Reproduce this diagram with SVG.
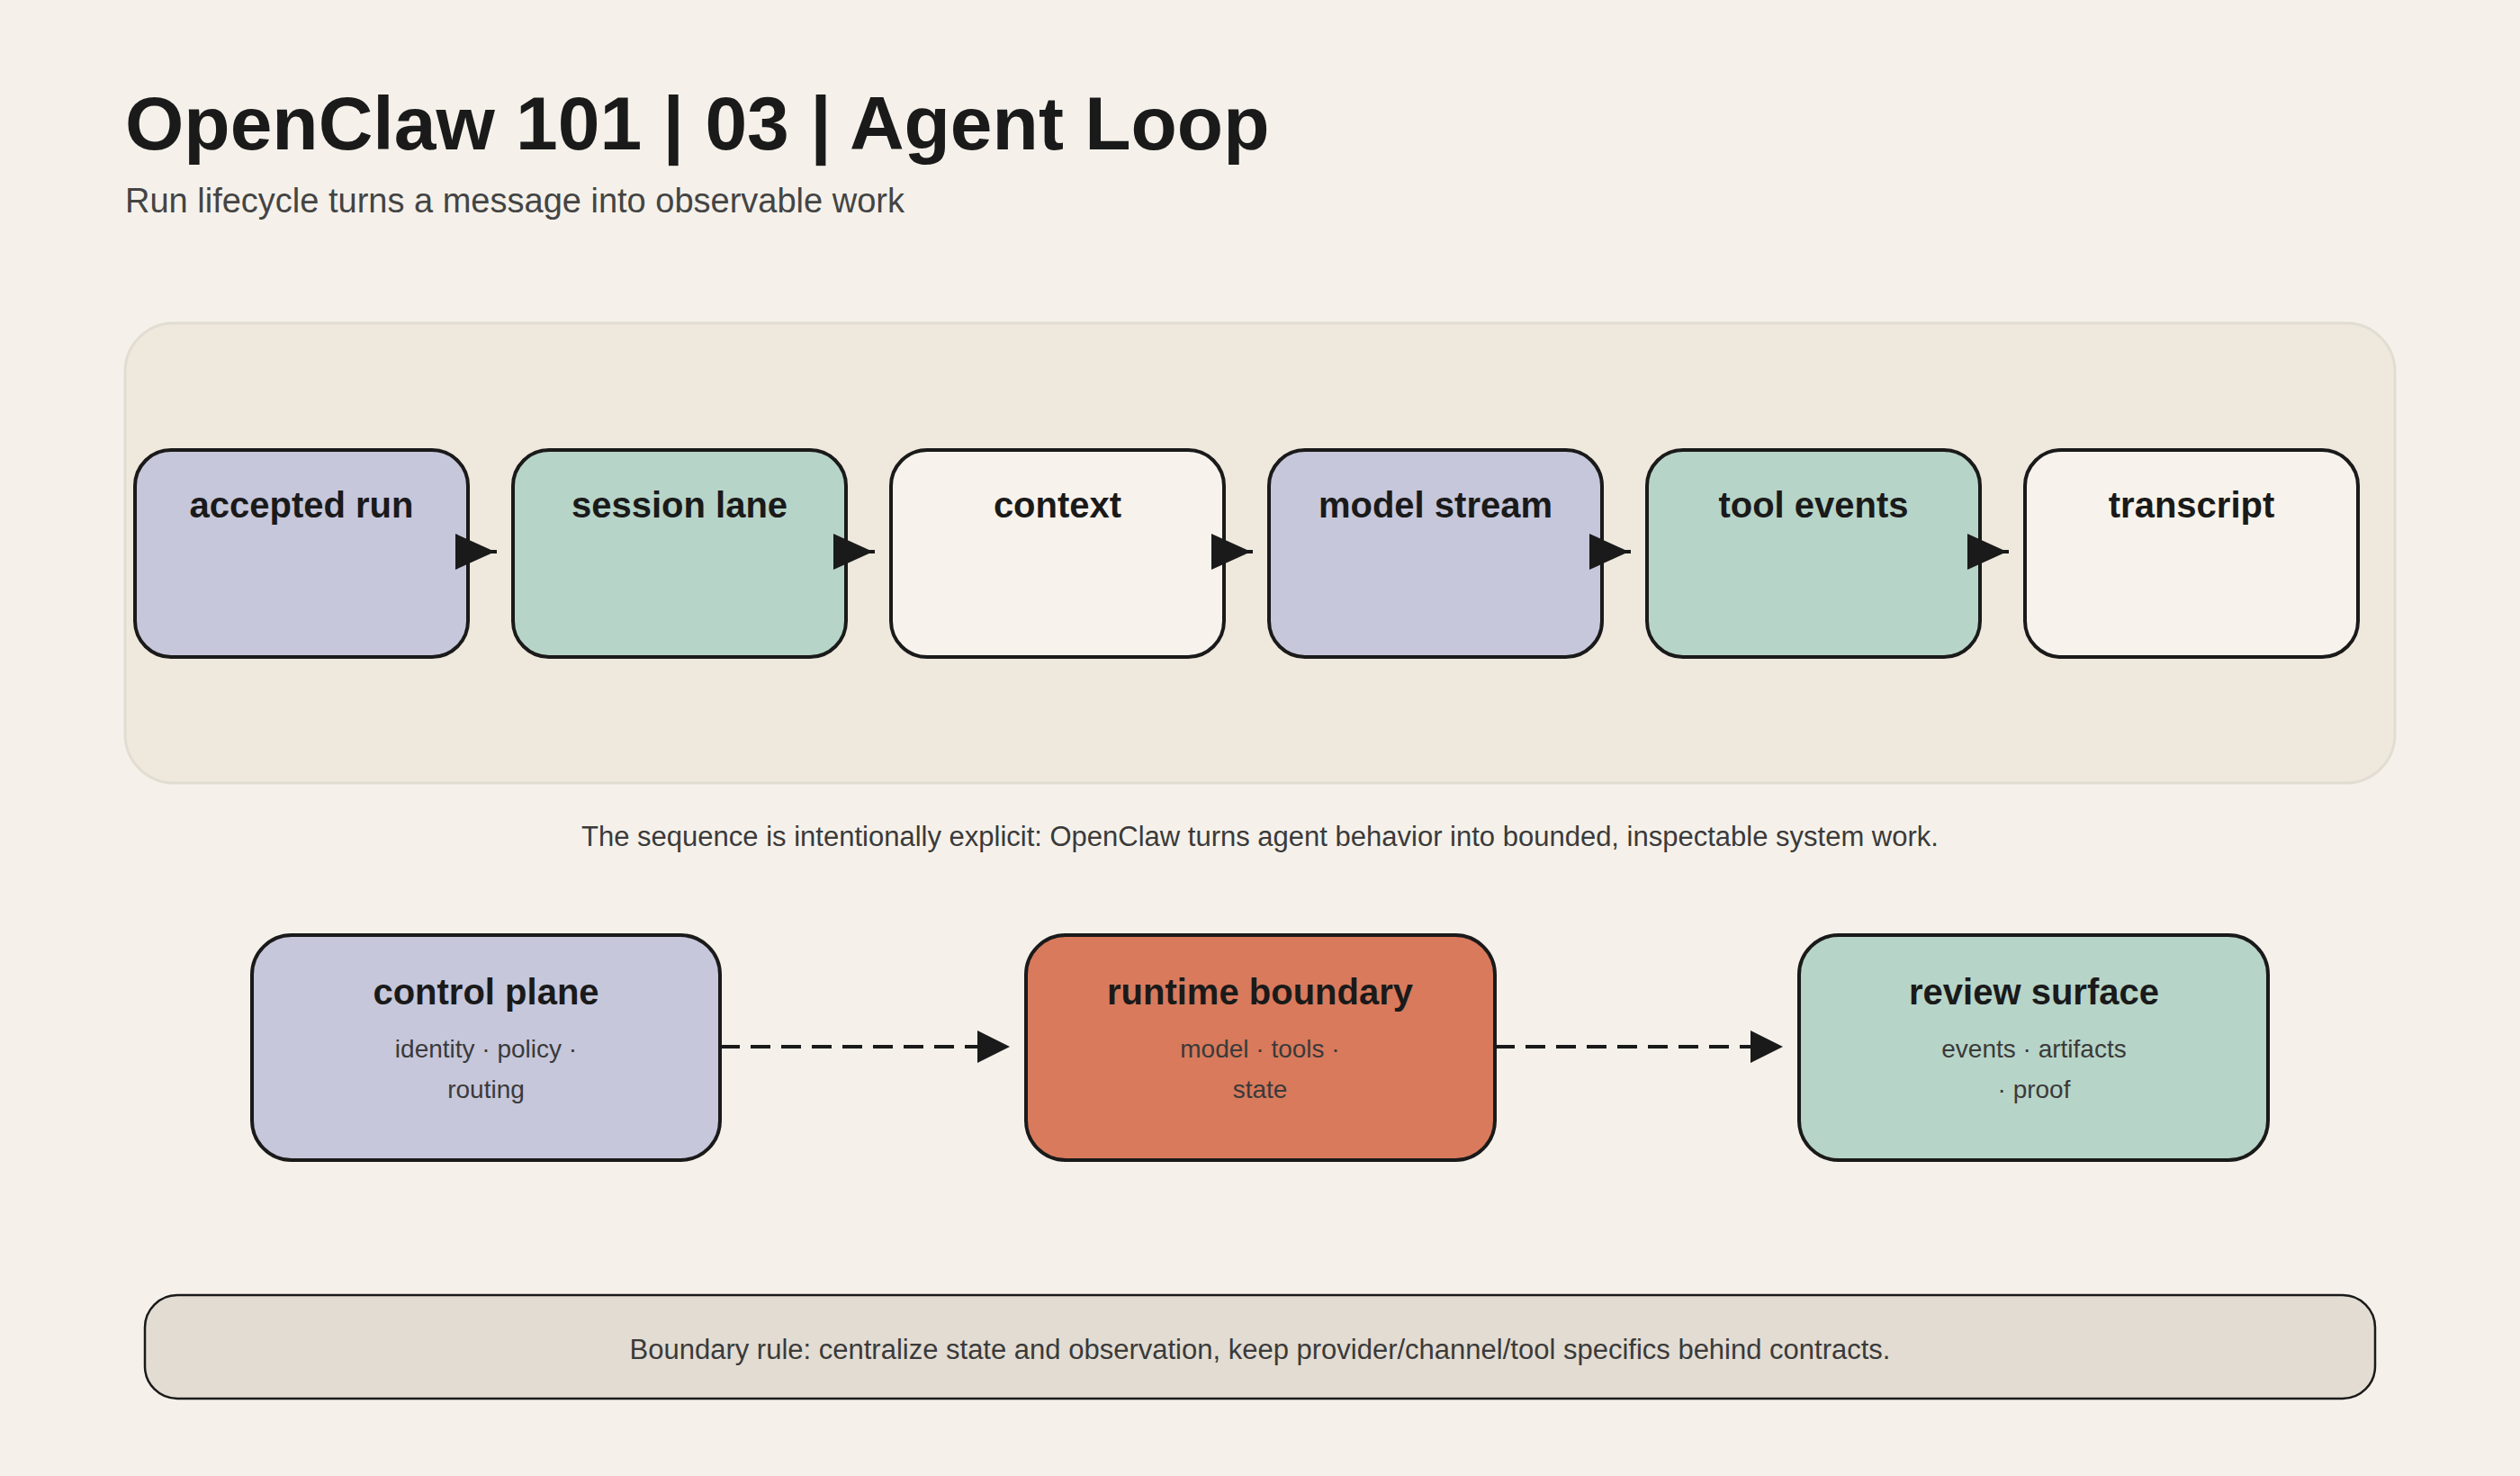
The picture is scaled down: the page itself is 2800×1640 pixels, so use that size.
<svg xmlns="http://www.w3.org/2000/svg" width="2800" height="1640" viewBox="0 0 2800 1640">
<style>
text{font-family:"Liberation Sans",Arial,sans-serif;}
.n{stroke:#1a1a1a;stroke-width:4}
.p{fill:#c6c7db}.g{fill:#b7d4c8}.c{fill:#f7f3ec}.o{fill:#d97a5c}
.t{font-size:40px;font-weight:bold;fill:#1a1a1a;text-anchor:middle}
.s{font-size:28px;fill:#3a3a3a;text-anchor:middle}
.ar{fill:#1a1a1a}
.ln{stroke:#1a1a1a;stroke-width:4;fill:none}
.d{stroke-dasharray:22 12}
</style>
<rect width="2800" height="1640" fill="#f5f1ea"/>
<text x="139" y="166" font-size="84" font-weight="bold" fill="#1a1a1a">OpenClaw 101 | 03 | Agent Loop</text>
<text x="139" y="236" font-size="38" fill="#444">Run lifecycle turns a message into observable work</text>
<rect x="139" y="359" width="2522" height="511" rx="54" fill="#efe8dd" stroke="#e2ddd2" stroke-width="3"/>
<g id="n1"><rect class="n p" x="150" y="500" width="370" height="230" rx="40"/><text class="t" x="335" y="575">accepted run</text></g>
<g id="n2"><rect class="n g" x="570" y="500" width="370" height="230" rx="40"/><text class="t" x="755" y="575">session lane</text></g>
<g id="n3"><rect class="n c" x="990" y="500" width="370" height="230" rx="40"/><text class="t" x="1175" y="575">context</text></g>
<g id="n4"><rect class="n p" x="1410" y="500" width="370" height="230" rx="40"/><text class="t" x="1595" y="575">model stream</text></g>
<g id="n5"><rect class="n g" x="1830" y="500" width="370" height="230" rx="40"/><text class="t" x="2015" y="575">tool events</text></g>
<g id="n6"><rect class="n c" x="2250" y="500" width="370" height="230" rx="40"/><text class="t" x="2435" y="575">transcript</text></g>
<text x="1400" y="940" font-size="31" fill="#3a3a3a" text-anchor="middle">The sequence is intentionally explicit: OpenClaw turns agent behavior into bounded, inspectable system work.</text>
<g id="b1"><rect class="n p" x="280" y="1039" width="520" height="250" rx="44"/><text class="t" x="540" y="1116">control plane</text><text class="s" x="540" y="1175">identity · policy ·</text><text class="s" x="540" y="1220">routing</text></g>
<g id="b2"><rect class="n o" x="1140" y="1039" width="521" height="250" rx="44"/><text class="t" x="1400" y="1116">runtime boundary</text><text class="s" x="1400" y="1175">model · tools ·</text><text class="s" x="1400" y="1220">state</text></g>
<g id="b3"><rect class="n g" x="1999" y="1039" width="521" height="250" rx="44"/><text class="t" x="2260" y="1116">review surface</text><text class="s" x="2260" y="1175">events · artifacts</text><text class="s" x="2260" y="1220">· proof</text></g>
<g id="connectors">
<path class="ln" d="M520 613H552"/><polygon class="ar" points="506,593 550,613 506,633"/>
<path class="ln" d="M940 613H972"/><polygon class="ar" points="926,593 970,613 926,633"/>
<path class="ln" d="M1360 613H1392"/><polygon class="ar" points="1346,593 1390,613 1346,633"/>
<path class="ln" d="M1780 613H1812"/><polygon class="ar" points="1766,593 1810,613 1766,633"/>
<path class="ln" d="M2200 613H2232"/><polygon class="ar" points="2186,593 2230,613 2186,633"/>
<path class="ln d" d="M800 1163H1100"/><polygon class="ar" points="1086,1145 1122,1163 1086,1181"/>
<path class="ln d" d="M1661 1163H1960"/><polygon class="ar" points="1945,1145 1981,1163 1945,1181"/>
</g>
<g id="rule"><rect x="161" y="1439" width="2478" height="115" rx="36" fill="#e3dcd2" stroke="#1a1a1a" stroke-width="2.5"/>
<text x="1400" y="1510" font-size="31" fill="#3a3a3a" text-anchor="middle">Boundary rule: centralize state and observation, keep provider/channel/tool specifics behind contracts.</text></g>
</svg>
